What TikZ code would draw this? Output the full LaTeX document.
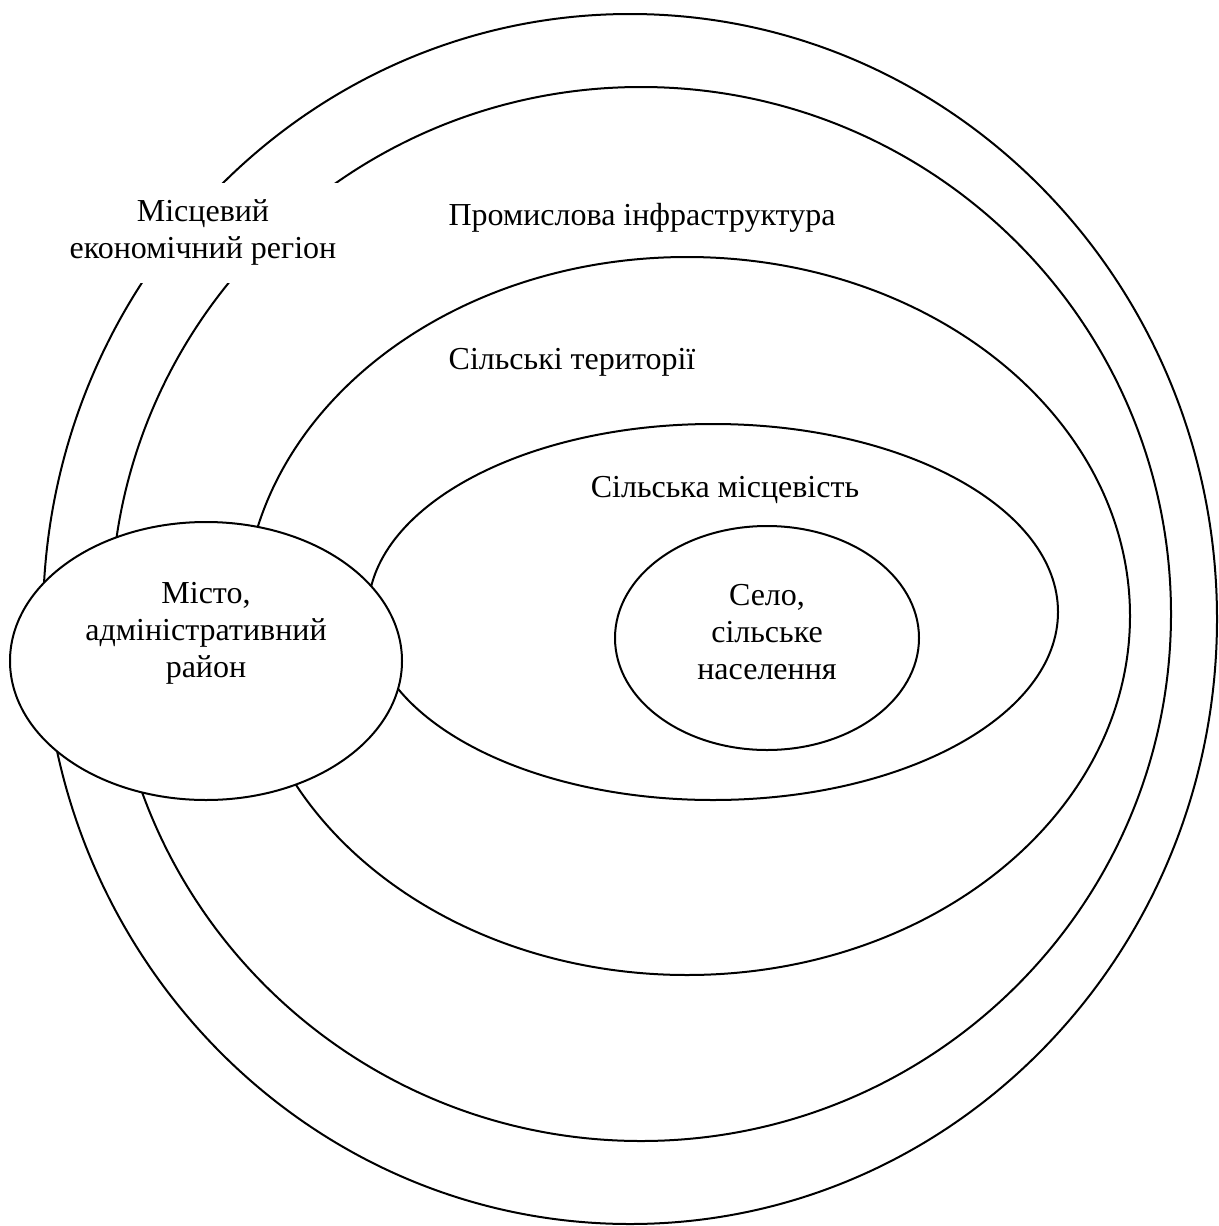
\documentclass[tikz,border=0pt]{standalone}
\usepackage{fontspec}
\setmainfont{Liberation Serif}
\usetikzlibrary{shapes.geometric}
\tikzset{
  ring/.style={ellipse, draw=black, line width=2pt, inner sep=0pt, outer sep=0pt},
  lbl/.style={font=\fontsize{32}{37}\selectfont, inner sep=0pt, align=center},
}
\begin{document}
\begin{tikzpicture}[x=1pt,y=-1pt]
\useasboundingbox (0,0) rectangle (1218,1226);
\fill[white] (0,0) rectangle (1218,1226);
% rings
\node[ring, minimum width=1174pt, minimum height=1210pt] (outer) at (630,619) {};
\node[ring, minimum width=1060pt, minimum height=1054pt] (second) at (641,614) {};
\node[ring, minimum width=886pt, minimum height=718pt] (third) at (687,616) {};
\node[ring, minimum width=690pt, minimum height=376pt] (fourth) at (713,612) {};
\node[ring, minimum width=304pt, minimum height=224pt] (village) at (767,638) {};
% white block behind region label
\fill[white] (60,183) rectangle (348,283);
% city
\node[ring, fill=white, minimum width=392pt, minimum height=278pt] (city) at (206,661) {};
% labels
\node[lbl] (reg) at (203,232) {Місцевий\\економічний регіон};
\node[lbl] (ind) at (642,218) {Промислова інфраструктура};
\node[lbl] (rur) at (572,362) {Сільські території};
\node[lbl] (loc) at (725,490) {Сільська місцевість};
\node[lbl] (vil) at (767,632) {Село,\\сільське\\населення};
\node[lbl] (cit) at (206,633) {Місто,\\адміністративний\\район};
\end{tikzpicture}
\end{document}
